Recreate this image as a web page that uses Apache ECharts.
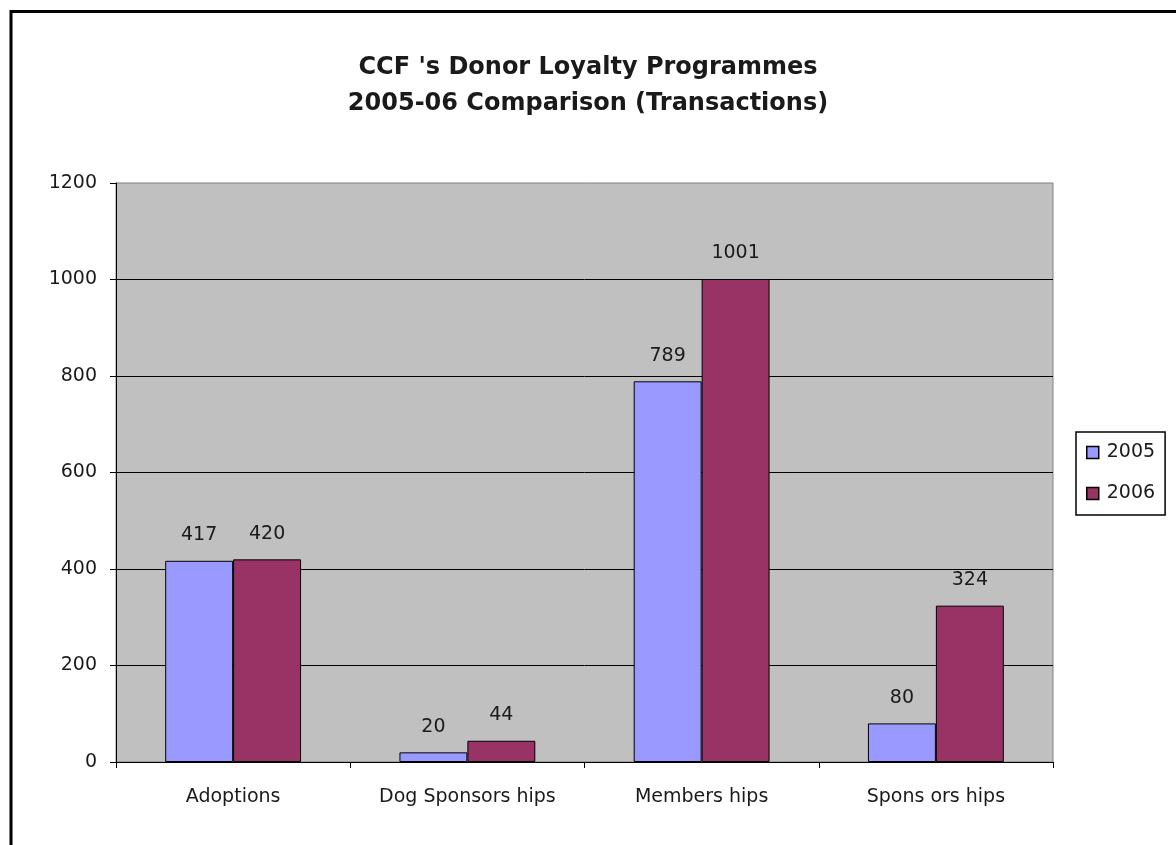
<!DOCTYPE html>
<html>
<head>
<meta charset="utf-8">
<script src="https://cdn.jsdelivr.net/npm/echarts@6/dist/echarts.min.js"></script>
<style>
html,body{margin:0;padding:0;background:#fff;}
#chart{width:1176px;height:845px;}
</style>
</head>
<body>
<div id="chart"></div>
<script>
const categories = ['Adoptions', 'Dog Sponsors hips', 'Members hips', 'Spons ors hips'];
const values2005 = [417, 20, 789, 80];
const values2006 = [420, 44, 1001, 324];
const seriesNames = ['2005', '2006'];
const yTicks = [0, 200, 400, 600, 800, 1000, 1200];
const titleLines = ["CCF 's Donor Loyalty Programmes", '2005-06 Comparison (Transactions)'];

const chart = echarts.init(document.getElementById('chart'), null, {renderer: 'canvas'});
const FONT = '"DejaVu Sans", sans-serif';
const TXT = '#1a1a1a';
const labelCfg = {
  show: true, position: 'top', distance: 16,
  color: TXT, fontSize: 19, fontFamily: FONT
};
chart.setOption({
  animation: false,
  backgroundColor: '#fff',
  title: {
    text: titleLines.join('\n'),
    left: 'center', top: 45,
    textStyle: {fontFamily: FONT, fontSize: 24, fontWeight: 'bold', color: TXT, lineHeight: 36}
  },
  graphic: [{
    type: 'rect', left: 8.5, top: 9, silent: true,
    shape: {width: 1400, height: 1000},
    style: {fill: 'none', stroke: '#000', lineWidth: 3}
  }],
  legend: {
    data: seriesNames,
    orient: 'vertical',
    left: 1076, top: 432,
    padding: [11, 10, 12, 10],
    itemGap: 22,
    itemWidth: 12, itemHeight: 12,
    icon: 'rect',
    borderColor: '#000', borderWidth: 1.5,
    itemStyle: {borderColor: '#000', borderWidth: 1.5},
    textStyle: {fontFamily: FONT, fontSize: 19, color: TXT, padding: [0, 0, 0, 3]}
  },
  grid: {
    left: 116, right: 123, top: 183, bottom: 83,
    show: true, backgroundColor: '#C0C0C0', borderColor: '#808080', borderWidth: 1
  },
  xAxis: {
    type: 'category',
    data: categories,
    axisLine: {lineStyle: {color: '#000', width: 1}},
    axisTick: {show: true, length: 6, lineStyle: {color: '#000'}},
    axisLabel: {fontFamily: FONT, fontSize: 19, color: TXT, margin: 26}
  },
  yAxis: {
    type: 'value',
    min: yTicks[0], max: yTicks[yTicks.length - 1], interval: 200,
    axisLine: {show: true, lineStyle: {color: '#000', width: 1}},
    axisTick: {show: true, length: 6, lineStyle: {color: '#000'}},
    axisLabel: {fontFamily: FONT, fontSize: 19, color: TXT, margin: 19, formatter: v => String(v)},
    splitLine: {show: true, showMaxLine: false, lineStyle: {color: '#000', width: 1}}
  },
  series: [
    {
      name: seriesNames[0], type: 'bar', data: values2005,
      barGap: '0%', barCategoryGap: '42%',
      itemStyle: {color: '#9999FF', borderColor: '#000', borderWidth: 1},
      label: labelCfg
    },
    {
      name: seriesNames[1], type: 'bar', data: values2006,
      itemStyle: {color: '#993366', borderColor: '#000', borderWidth: 1},
      label: labelCfg
    }
  ]
});
</script>
</body>
</html>
